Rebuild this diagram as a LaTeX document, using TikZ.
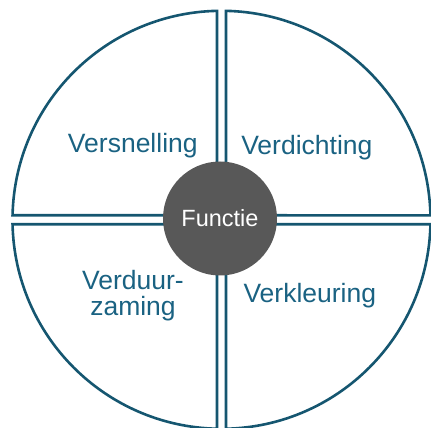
\documentclass[tikz,border=0pt]{standalone}
\usepackage{fontspec}
\setmainfont{Liberation Sans}
\usetikzlibrary{calc}

\definecolor{quadcolor}{RGB}{21,86,112}
\definecolor{quadtextcolor}{RGB}{26,98,130}
\definecolor{corecolor}{RGB}{88,88,88}

\tikzset{
  %% quadrant : one quarter of the outer circle
  quadrant/.style={
    draw=quadcolor,
    line width=2.6pt,
    line join=miter
  },
  %% quadtext : text inside a quadrant
  quadtext/.style={
    text=quadtextcolor,
    font=\fontsize{26.5}{26}\selectfont,
    align=center,
    inner sep=0pt,
    anchor=base
  },
  %% core : the disc in the middle
  core/.style={
    circle,
    fill=corecolor,
    minimum size=114pt,
    inner sep=0pt,
    text=white,
    font=\fontsize{23.5}{24}\selectfont
  }
}

\begin{document}
\begin{tikzpicture}
  [x=1pt,
  y=1pt]

  \useasboundingbox (-221.5,-208.2) rectangle (209.5,219.8);

  %% Quadrants
  \def\rad{209}
  \def\gap{4.5}
  \pgfmathsetmacro{\offang}{asin(\gap/\rad)}
  \pgfmathsetmacro{\reach}{\rad*cos(\offang)}
  \foreach \rot in {0,90,180,270}{
    \draw [quadrant, rotate=\rot] (\gap,\gap) -- (\gap,\reach)
    arc [start angle=90-\offang, end angle=\offang, radius=\rad pt]
    -- cycle;
  }

  %% Centre
  \node (functie) [core] at (-1.5,1.3) {Functie};

  %% Texts
  \node (versnelling) [quadtext] at (-85,66.8) {%
    Versnelling
  };
  \node (verdichting) [quadtext] at (89,65.3) {%
    Verdichting
  };
  \node (verduurzaming) [quadtext] at (-88.5,-95.4) {%
    Verduur-\\zaming
  };
  \node (verkleuring) [quadtext] at (92,-82.2) {%
    Verkleuring
  };

\end{tikzpicture}
\end{document}
